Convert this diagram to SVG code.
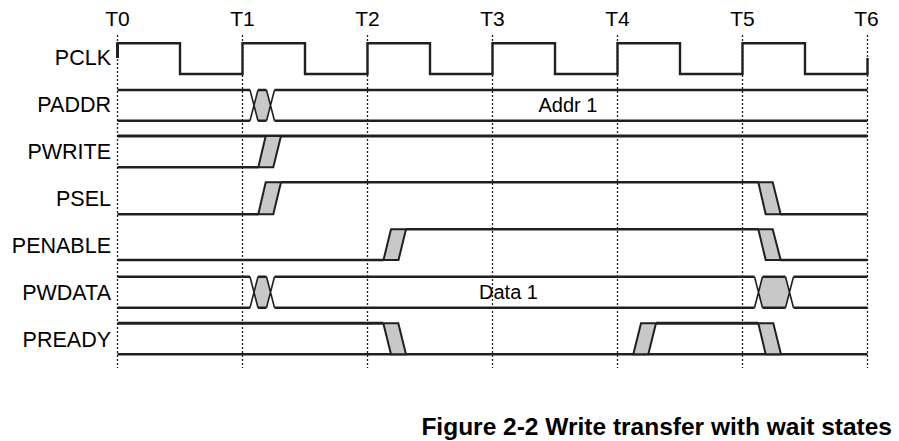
<svg xmlns="http://www.w3.org/2000/svg" width="899" height="441" viewBox="0 0 899 441">
<style>
.lbl{font-family:"Liberation Sans",Arial,sans-serif;font-size:21.5px;fill:#000;text-anchor:end}
.tm{font-family:"Liberation Sans",Arial,sans-serif;font-size:21px;fill:#000;text-anchor:middle}
.val{font-family:"Liberation Sans",Arial,sans-serif;font-size:20px;fill:#000;text-anchor:middle}
.cap{font-family:"Liberation Sans",Arial,sans-serif;font-size:24.5px;font-weight:bold;fill:#000;text-anchor:end}
.dot{stroke:#231f20;stroke-width:1.3;stroke-dasharray:2 2;fill:none}
.sig{stroke:#231f20;stroke-width:2.4;fill:none;stroke-linejoin:miter}
.thk{stroke:#231f20;stroke-width:3;fill:none}
.tr{fill:#c8c8c8;stroke:#231f20;stroke-width:2;stroke-linejoin:miter}
.hx{fill:#c8c8c8;stroke:none}
.xl{stroke:#231f20;stroke-width:1.6;fill:none}
</style>
<g id="gridlines">
<line class="dot" x1="117.5" y1="35" x2="117.5" y2="368"/>
<line class="dot" x1="242.5" y1="35" x2="242.5" y2="368"/>
<line class="dot" x1="367.5" y1="35" x2="367.5" y2="368"/>
<line class="dot" x1="492.5" y1="35" x2="492.5" y2="368"/>
<line class="dot" x1="617.5" y1="35" x2="617.5" y2="368"/>
<line class="dot" x1="742.5" y1="35" x2="742.5" y2="368"/>
<line class="dot" x1="867.5" y1="35" x2="867.5" y2="368"/>
</g>
<g id="times">
<text class="tm" x="117.5" y="26">T0</text>
<text class="tm" x="242.5" y="26">T1</text>
<text class="tm" x="367.5" y="26">T2</text>
<text class="tm" x="492.5" y="26">T3</text>
<text class="tm" x="617.5" y="26">T4</text>
<text class="tm" x="742.5" y="26">T5</text>
<text class="tm" x="866.5" y="26">T6</text>
</g>
<g id="PCLK">
<text class="lbl" x="111" y="65">PCLK</text>
<path class="sig" stroke-width="2.7" d="M117.5,58 V43.3 H180 V74 H242.5 V43.3 H305 V74 H367.5 V43.3 H430 V74 H492.5 V43.3 H555 V74 H617.5 V43.3 H680 V74 H742.5 V43.3 H805 V74 H867.5 V58"/>
<line class="thk" x1="117.5" y1="58" x2="117.5" y2="43"/>
</g>
<g id="PADDR">
<text class="lbl" x="111" y="112">PADDR</text>
<polygon class="hx" points="254,105.35 258,90 266.5,90 270.5,105.35 266.5,120.7 258,120.7"/>
<path class="sig" d="M117.5,90 H250 M258,90 H266.5 M274.5,90 H867.5 M117.5,120.7 H250 M258,120.7 H266.5 M274.5,120.7 H867.5"/>
<path class="xl" d="M250,90 L258,120.7 M250,120.7 L258,90 M266.5,90 L274.5,120.7 M266.5,120.7 L274.5,90"/>
<text class="val" x="568" y="111.5">Addr 1</text>
</g>
<g id="PWRITE">
<text class="lbl" x="111" y="159">PWRITE</text>
<line class="thk" x1="117.5" y1="136" x2="867.5" y2="136"/>
<line class="sig" x1="117.5" y1="167.3" x2="258.3" y2="167.3"/>
<polygon class="tr" points="258.3,167.3 273.3,167.3 281,136 265.7,136"/>
</g>
<g id="PSEL">
<text class="lbl" x="111" y="206">PSEL</text>
<path class="sig" d="M117.5,214.3 H258.3 M281,182.3 H758.3 M780.7,214.3 H867.5"/>
<polygon class="tr" points="258.3,214.3 273.3,214.3 281,182.3 265.7,182.3"/>
<polygon class="tr" points="758.3,182.3 772.7,182.3 780.7,214.3 765.7,214.3"/>
</g>
<g id="PENABLE">
<text class="lbl" x="111" y="253">PENABLE</text>
<path class="sig" d="M117.5,260 H383.5 M406,229.3 H758.3 M780.7,260 H867.5"/>
<polygon class="tr" points="383.5,260 398.5,260 406,229.3 391,229.3"/>
<polygon class="tr" points="758.3,229.3 772.7,229.3 780.7,260 765.7,260"/>
</g>
<g id="PWDATA">
<text class="lbl" x="111" y="300">PWDATA</text>
<polygon class="hx" points="254,292.2 258,276.7 266.5,276.7 270.5,292.2 266.5,307.7 258,307.7"/>
<polygon class="hx" points="758.5,292.2 762.5,276.7 785.5,276.7 789.5,292.2 785.5,307.7 762.5,307.7"/>
<path class="sig" d="M117.5,276.7 H250 M258,276.7 H266.5 M274.5,276.7 H754.5 M762.5,276.7 H785.5 M793.5,276.7 H867.5 M117.5,307.7 H250 M258,307.7 H266.5 M274.5,307.7 H754.5 M762.5,307.7 H785.5 M793.5,307.7 H867.5"/>
<path class="xl" d="M250,276.7 L258,307.7 M250,307.7 L258,276.7 M266.5,276.7 L274.5,307.7 M266.5,307.7 L274.5,276.7 M754.5,276.7 L762.5,307.7 M754.5,307.7 L762.5,276.7 M785.5,276.7 L793.5,307.7 M785.5,307.7 L793.5,276.7"/>
<text class="val" x="508.5" y="298.5">Data 1</text>
</g>
<g id="PREADY">
<text class="lbl" x="111" y="347">PREADY</text>
<line class="thk" x1="117.5" y1="323.3" x2="383.3" y2="323.3"/>
<line class="sig" x1="117.5" y1="354.3" x2="867.5" y2="354.3"/>
<line class="thk" x1="656" y1="323.3" x2="758.3" y2="323.3"/>
<polygon class="tr" points="383.3,323.3 398.3,323.3 406,354.3 391,354.3"/>
<polygon class="tr" points="633.3,354.3 648.3,354.3 656,323.3 641,323.3"/>
<polygon class="tr" points="758.3,323.3 773.3,323.3 781,354.3 765.7,354.3"/>
</g>
<text class="cap" x="892" y="435">Figure 2-2 Write transfer with wait states</text>
</svg>
